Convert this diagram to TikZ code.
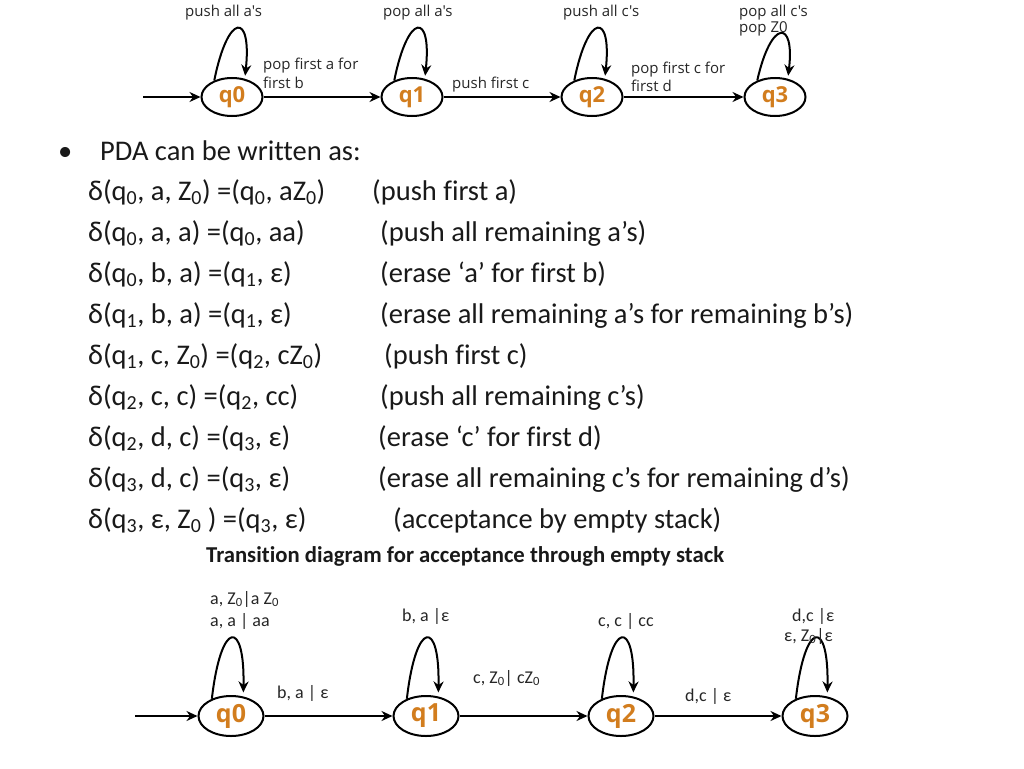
\documentclass[tikz,border=0pt]{standalone}
\usepackage{fontspec}
\setmainfont{Carlito}[Ligatures=NoCommon]
\newfontfamily\labf{Open Sans}
\usetikzlibrary{shapes.geometric,arrows.meta,calc}
\definecolor{stq}{RGB}{210,125,30}
\definecolor{txt}{RGB}{25,25,25}
\newcommand\sbs[1]{\textsubscript{#1}}
\begin{document}
\begin{tikzpicture}[x=1pt,y=-1pt,
  st/.style={ellipse,draw,line width=2pt,inner sep=0pt,minimum width=61pt,minimum height=38pt,
    font=\labf\bfseries\fontsize{22}{22}\selectfont,text=stq},
  stb/.style={st,minimum width=65pt,minimum height=40pt,font=\labf\bfseries\fontsize{25}{25}\selectfont},
  tr/.style={line width=2pt,-{Stealth[length=11pt,width=10pt]}},
  lt/.style={font=\labf\fontsize{15}{17}\selectfont,text=black!85,anchor=base west,inner sep=0pt},
  lb/.style={font=\fontsize{18}{20}\selectfont,text=black!85,anchor=base west,inner sep=0pt},
  mt/.style={font=\fontsize{28.5}{30}\selectfont,text=txt,anchor=base west,inner sep=0pt},
]
\useasboundingbox (0,0) rectangle (1024,768);

% ---------- top diagram ----------
\node[st] (a0) at (232,97) {q0};
\node[st] (a1) at (412,97) {q1};
\node[st] (a2) at (592,97) {q2};
\node[st] (a3) at (775,97) {q3};
\coordinate (ain) at (143,97);
\draw[tr] (ain) -- (a0);
\draw[tr] (a0) -- (a1);
\draw[tr] (a1) -- (a2);
\draw[tr] (a2) -- (a3);
\foreach \s/\h in {a0/85,a1/85,a2/85,a3/78}
  \draw[tr,shorten >=3pt] (\s.137) .. controls ($(\s)+(-4,-\h)$) and ($(\s)+(20,-\h)$) .. (\s.55);

\node[lt] (t1) at (185,17) {push all a's};
\node[lt] (t2) at (383,17) {pop all a's};
\node[lt] (t3) at (563,17) {push all c's};
\node[lt] (t4) at (739,17) {pop all c's};
\node[lt] (t5) at (739,33) {pop Z0};
\node[lt] (t6) at (263,70) {pop first a for};
\node[lt] (t7) at (263,88) {first b};
\node[lt] (t8) at (452,88) {push first c};
\node[lt] (t9) at (631,74) {pop first c for};
\node[lt] (t10) at (631,91) {first d};

% ---------- text ----------
\node[mt] (bul) at (58,160) {•};
\node[mt] (pda) at (100,160) {PDA can be written as:};
\node[mt] (l1) at (88,200) {δ(q\sbs0, a, Z\sbs0) =(q\sbs0, aZ\sbs0)};
\node[mt] (r1) at (372,200) {(push first a)};
\node[mt] (l2) at (88,241) {δ(q\sbs0, a, a) =(q\sbs0, aa)};
\node[mt] (r2) at (380,241) {(push all remaining a’s)};
\node[mt] (l3) at (88,282) {δ(q\sbs0, b, a) =(q\sbs1, ε)};
\node[mt] (r3) at (380,282) {(erase ‘a’ for first b)};
\node[mt] (l4) at (88,323) {δ(q\sbs1, b, a) =(q\sbs1, ε)};
\node[mt] (r4) at (380,323) {(erase all remaining a’s for remaining b’s)};
\node[mt] (l5) at (88,364) {δ(q\sbs1, c, Z\sbs0) =(q\sbs2, cZ\sbs0)};
\node[mt] (r5) at (384,364) {(push first c)};
\node[mt] (l6) at (88,405) {δ(q\sbs2, c, c) =(q\sbs2, cc)};
\node[mt] (r6) at (380,405) {(push all remaining c’s)};
\node[mt] (l7) at (88,446) {δ(q\sbs2, d, c) =(q\sbs3, ε)};
\node[mt] (r7) at (378,446) {(erase ‘c’ for first d)};
\node[mt] (l8) at (88,487) {δ(q\sbs3, d, c) =(q\sbs3, ε)};
\node[mt] (r8) at (378,487) {(erase all remaining c’s for remaining d’s)};
\node[mt] (l9) at (88,528) {δ(q\sbs3, ε, Z\sbs0 ) =(q\sbs3, ε)};
\node[mt] (r9) at (393,528) {(acceptance by empty stack)};
\node[anchor=base west,inner sep=0pt,text=txt,font=\bfseries\fontsize{22.7}{24}\selectfont] (ttl) at (206,562)
  {Transition diagram for acceptance through empty stack};

% ---------- bottom diagram ----------
\node[stb] (b0) at (231,716) {q0};
\node[stb] (b1) at (426,716) {q1};
\node[stb] (b2) at (621,716) {q2};
\node[stb] (b3) at (815,716) {q3};
\coordinate (bin) at (135,716);
\draw[tr] (bin) -- (b0);
\draw[tr] (b0) -- (b1);
\draw[tr] (b1) -- (b2);
\draw[tr] (b2) -- (b3);
\foreach \s in {b0,b1,b2,b3}
  \draw[tr,shorten >=4pt] (\s.138) .. controls ($(\s)+(-10,-97)$) and ($(\s)+(14,-97)$) .. (\s.58);

\node[lb] (u1) at (210,604) {a, Z\sbs0|a Z\sbs0};
\node[lb] (u2) at (210,626) {a, a | aa};
\node[lb] (u3) at (402,621) {b, a |ε};
\node[lb] (u4) at (277,698) {b, a | ε};
\node[lb] (u5) at (473,683) {c, Z\sbs0| cZ\sbs0};
\node[lb] (u6) at (598,626) {c, c | cc};
\node[lb] (u7) at (792,621) {d,c |ε};
\node[lb] (u8) at (784,641) {ε, Z\sbs0|ε};
\node[lb] (u9) at (685,701) {d,c | ε};
\end{tikzpicture}
\end{document}
